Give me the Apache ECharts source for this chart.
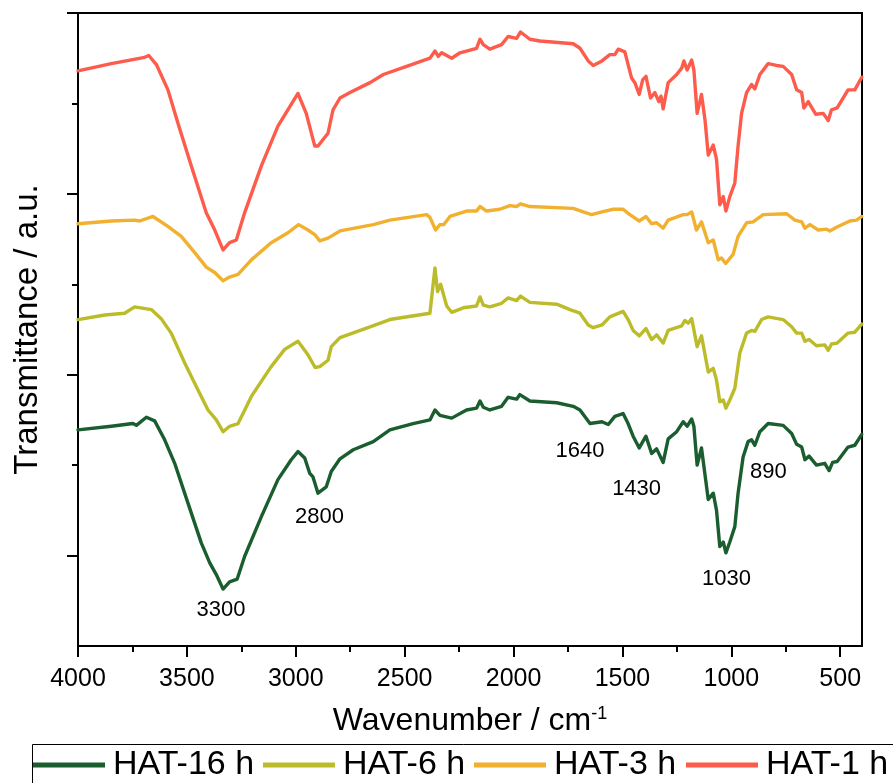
<!DOCTYPE html>
<html>
<head>
<meta charset="utf-8">
<script src="https://cdn.jsdelivr.net/npm/echarts@6/dist/echarts.min.js"></script>
<style>html,body{margin:0;padding:0;background:#fff;}#chart{width:893px;height:783px;}</style>
</head>
<body>
<div id="chart"></div>
<script>
// ---- data (wavenumber in cm^-1, transmittance in a.u.) ----
const seriesNames = ['HAT-16 h', 'HAT-6 h', 'HAT-3 h', 'HAT-1 h'];
const seriesColors = ['#1a5d2e', '#bcbc2a', '#f2b02f', '#fd5c4c'];

const hat16Wn = [4000,3847,3748,3732,3686,3648,3602,3556,3495,3434,3395,3365,3334,3304,3269,3235,3158,3082,3021,2990,2959,2936,2921,2898,2860,2837,2797,2736,2644,2568,2461,2384,2361,2338,2284,2216,2170,2154,2139,2109,2055,2025,1986,1971,1925,1802,1726,1695,1649,1594,1565,1535,1497,1474,1451,1423,1392,1366,1343,1313,1290,1251,1221,1203,1182,1172,1157,1137,1106,1083,1068,1053,1037,1025,1007,984,969,946,923,907,892,869,831,762,723,700,677,662,643,609,571,551,535,514,464,433,401];
const hat16T = [2.39,2.43,2.46,2.44,2.53,2.49,2.28,2.02,1.58,1.14,0.92,0.79,0.63,0.71,0.74,0.99,1.43,1.84,2.06,2.15,2.08,1.91,1.87,1.69,1.76,1.93,2.07,2.17,2.26,2.39,2.46,2.50,2.61,2.55,2.52,2.61,2.63,2.71,2.64,2.61,2.65,2.75,2.73,2.78,2.71,2.69,2.65,2.61,2.46,2.48,2.45,2.54,2.57,2.46,2.32,2.19,2.32,2.13,2.18,2.03,2.29,2.37,2.48,2.43,2.51,2.43,2.00,2.19,1.62,1.69,1.50,1.10,1.15,1.03,1.15,1.32,1.69,2.09,2.26,2.28,2.22,2.37,2.46,2.44,2.35,2.23,2.20,2.06,2.10,2.00,2.02,1.94,2.03,2.04,2.20,2.22,2.34];

const hat6Wn = [4000,3877,3786,3740,3663,3618,3572,3510,3449,3403,3365,3334,3304,3265,3204,3113,3051,2990,2944,2911,2890,2852,2837,2797,2659,2568,2384,2361,2349,2335,2307,2284,2231,2170,2154,2139,2109,2055,2025,1986,1968,1925,1802,1741,1695,1657,1634,1594,1558,1497,1474,1451,1423,1392,1366,1343,1313,1290,1228,1213,1198,1182,1157,1137,1106,1083,1068,1053,1037,1025,1007,984,961,930,907,892,861,831,762,723,700,677,662,643,609,571,555,540,514,464,433,401];
const hat6T = [3.61,3.66,3.68,3.75,3.72,3.62,3.46,3.13,2.83,2.61,2.50,2.37,2.43,2.46,2.76,3.09,3.28,3.37,3.22,3.08,3.09,3.16,3.31,3.41,3.53,3.61,3.68,4.18,3.92,4.00,3.76,3.69,3.74,3.76,3.86,3.77,3.75,3.79,3.85,3.82,3.87,3.80,3.78,3.72,3.68,3.55,3.52,3.55,3.64,3.70,3.61,3.49,3.43,3.51,3.39,3.44,3.35,3.49,3.54,3.60,3.57,3.62,3.31,3.43,3.03,3.07,2.94,2.70,2.72,2.63,2.72,2.85,3.24,3.46,3.49,3.48,3.61,3.64,3.61,3.53,3.46,3.46,3.37,3.39,3.32,3.33,3.27,3.34,3.35,3.46,3.47,3.56];

const hat3Wn = [4000,3847,3740,3717,3656,3587,3526,3464,3411,3372,3334,3304,3265,3204,3113,3036,2987,2944,2913,2890,2852,2797,2644,2568,2399,2384,2358,2338,2320,2292,2216,2170,2154,2124,2063,2017,1986,1968,1925,1726,1680,1642,1594,1542,1497,1466,1423,1392,1366,1343,1313,1290,1221,1203,1182,1160,1137,1106,1083,1060,1045,1026,992,969,930,900,854,746,708,677,662,639,601,563,548,517,456,425,401];
const hat3T = [4.67,4.70,4.71,4.70,4.75,4.64,4.53,4.35,4.19,4.13,4.04,4.08,4.11,4.27,4.46,4.57,4.66,4.60,4.55,4.48,4.51,4.59,4.66,4.71,4.77,4.74,4.60,4.66,4.66,4.75,4.81,4.81,4.86,4.81,4.83,4.87,4.86,4.89,4.86,4.84,4.80,4.77,4.80,4.83,4.83,4.77,4.70,4.75,4.67,4.68,4.62,4.71,4.77,4.77,4.80,4.60,4.69,4.46,4.49,4.27,4.29,4.23,4.33,4.53,4.68,4.69,4.77,4.78,4.71,4.69,4.62,4.66,4.60,4.61,4.59,4.63,4.70,4.71,4.75];

const hat1Wn = [4000,3847,3694,3675,3640,3587,3541,3480,3411,3372,3334,3304,3273,3235,3158,3082,2990,2952,2913,2898,2852,2829,2797,2751,2659,2598,2491,2384,2361,2346,2330,2284,2246,2170,2154,2139,2109,2055,2025,1986,1968,1925,1879,1726,1695,1657,1634,1594,1558,1535,1519,1489,1458,1443,1423,1407,1392,1371,1351,1333,1323,1313,1290,1251,1228,1218,1203,1182,1172,1157,1137,1121,1106,1083,1068,1053,1037,1025,1007,984,969,953,930,907,892,869,831,792,762,723,700,677,667,647,612,578,555,540,514,464,433,401];
const hat1T = [6.36,6.44,6.51,6.53,6.43,6.15,5.78,5.31,4.79,4.60,4.38,4.46,4.49,4.79,5.31,5.75,6.11,5.89,5.53,5.53,5.67,5.93,6.06,6.12,6.23,6.32,6.41,6.50,6.58,6.52,6.56,6.50,6.56,6.61,6.71,6.65,6.60,6.65,6.74,6.72,6.79,6.71,6.69,6.66,6.61,6.47,6.42,6.47,6.54,6.54,6.60,6.57,6.28,6.23,6.10,6.26,6.30,6.06,6.12,6.02,6.08,5.94,6.23,6.32,6.39,6.47,6.37,6.48,6.37,5.89,6.10,5.82,5.43,5.54,5.38,4.88,4.97,4.81,4.97,5.12,5.53,5.89,6.12,6.21,6.16,6.32,6.44,6.42,6.41,6.32,6.15,6.12,5.95,6.02,5.88,5.89,5.81,5.93,5.95,6.15,6.15,6.29];

// peak annotations (text, wavenumber, transmittance position)
const annotLabels = ['3300', '2800', '1640', '1430', '1030', '890'];
const annotWn = [3343, 2891, 1695, 1435, 1022, 830];
const annotT = [0.40, 1.43, 2.16, 1.74, 0.74, 1.92];

// axis ticks
const xMajorTicks = [500, 1000, 1500, 2000, 2500, 3000, 3500, 4000];
const xMinorTicks = [750, 1250, 1750, 2250, 2750, 3250, 3750];
const yMajorTicks = [1, 3, 5, 7];
const yMinorTicks = [2, 4, 6];

// ---- chart ----
const FONT = '"Liberation Sans", Arial, sans-serif';
const zip = (a, b) => a.map((v, i) => [v, b[i]]);
const allWn = [hat16Wn, hat6Wn, hat3Wn, hat1Wn];
const allT = [hat16T, hat6T, hat3T, hat1T];

const lineSeries = seriesNames.map((name, i) => ({
  name: name,
  type: 'line',
  data: zip(allWn[i], allT[i]),
  showSymbol: false,
  symbol: 'none',
  smooth: false,
  lineStyle: { color: seriesColors[i], width: 3.4, join: 'round', cap: 'round' },
  itemStyle: { color: seriesColors[i] },
  emphasis: { disabled: true },
  silent: true,
  z: 3
}));

const annotSeries = {
  type: 'scatter',
  data: annotLabels.map((t, i) => ({ name: t, value: [annotWn[i], annotT[i]] })),
  symbolSize: 0,
  itemStyle: { color: '#000' },
  label: { show: true, position: 'inside', formatter: '{b}', fontSize: 22, color: '#000', opacity: 1, fontFamily: FONT, textBorderWidth: 0 },
  emphasis: { disabled: true },
  silent: true,
  z: 4
};

const legendLefts = [33, 263, 474, 686];
const legends = seriesNames.map((name, i) => ({
  data: [name],
  left: legendLefts[i],
  top: 748,
  padding: 0,
  icon: 'rect',
  itemWidth: 72,
  itemHeight: 5,
  selectedMode: false,
  textStyle: { fontSize: 34, color: '#000', fontFamily: FONT, padding: [0, 0, 0, 3] }
}));

const axisBase = {
  type: 'value', min: 400, max: 4000, inverse: true,
  splitLine: { show: false }
};

const option = {
  animation: false,
  backgroundColor: '#fff',
  grid: { left: 78, right: 31, top: 13, bottom: 137, show: true, borderColor: '#000', borderWidth: 2, backgroundColor: 'transparent' },
  legend: legends,
  graphic: [{
    type: 'rect', left: 30, top: 742, silent: true, z: 0,
    shape: { width: 900, height: 100 },
    style: { fill: 'none', stroke: '#000', lineWidth: 1 }
  }],
  xAxis: [
    Object.assign({}, axisBase, {
      position: 'bottom',
      axisLine: { show: true, lineStyle: { color: '#000', width: 2 } },
      axisTick: { show: true, customValues: xMajorTicks, length: 11, lineStyle: { color: '#000', width: 2 } },
      axisLabel: { customValues: xMajorTicks, formatter: v => String(v), fontSize: 25, color: '#000', margin: 21, fontFamily: FONT },
      name: '{m|Wavenumber / cm}{s|-1}',
      nameLocation: 'middle',
      nameGap: 59,
      nameTextStyle: {
        color: '#000', fontFamily: FONT,
        rich: {
          m: { fontSize: 32, color: '#000', fontFamily: FONT, verticalAlign: 'bottom' },
          s: { fontSize: 18, color: '#000', fontFamily: FONT, verticalAlign: 'top' }
        }
      }
    }),
    Object.assign({}, axisBase, {
      position: 'bottom',
      axisLine: { show: false },
      axisTick: { show: true, customValues: xMinorTicks, length: 6, lineStyle: { color: '#000', width: 2 } },
      axisLabel: { show: false }
    })
  ],
  yAxis: [
    {
      type: 'value', min: 0, max: 7, position: 'left',
      splitLine: { show: false },
      axisLine: { show: true, lineStyle: { color: '#000', width: 2 } },
      axisTick: { show: true, customValues: yMajorTicks, length: 11, lineStyle: { color: '#000', width: 2 } },
      axisLabel: { show: false },
      name: 'Transmittance / a.u.',
      nameLocation: 'middle',
      nameGap: 34,
      nameTextStyle: { fontSize: 33, color: '#000', fontFamily: FONT }
    },
    {
      type: 'value', min: 0, max: 7, position: 'left',
      splitLine: { show: false },
      axisLine: { show: false },
      axisTick: { show: true, customValues: yMinorTicks, length: 6, lineStyle: { color: '#000', width: 2 } },
      axisLabel: { show: false }
    }
  ],
  series: lineSeries.concat([annotSeries])
};

const chart = echarts.init(document.getElementById('chart'), null, { renderer: 'canvas' });
chart.setOption(option);
</script>
</body>
</html>
